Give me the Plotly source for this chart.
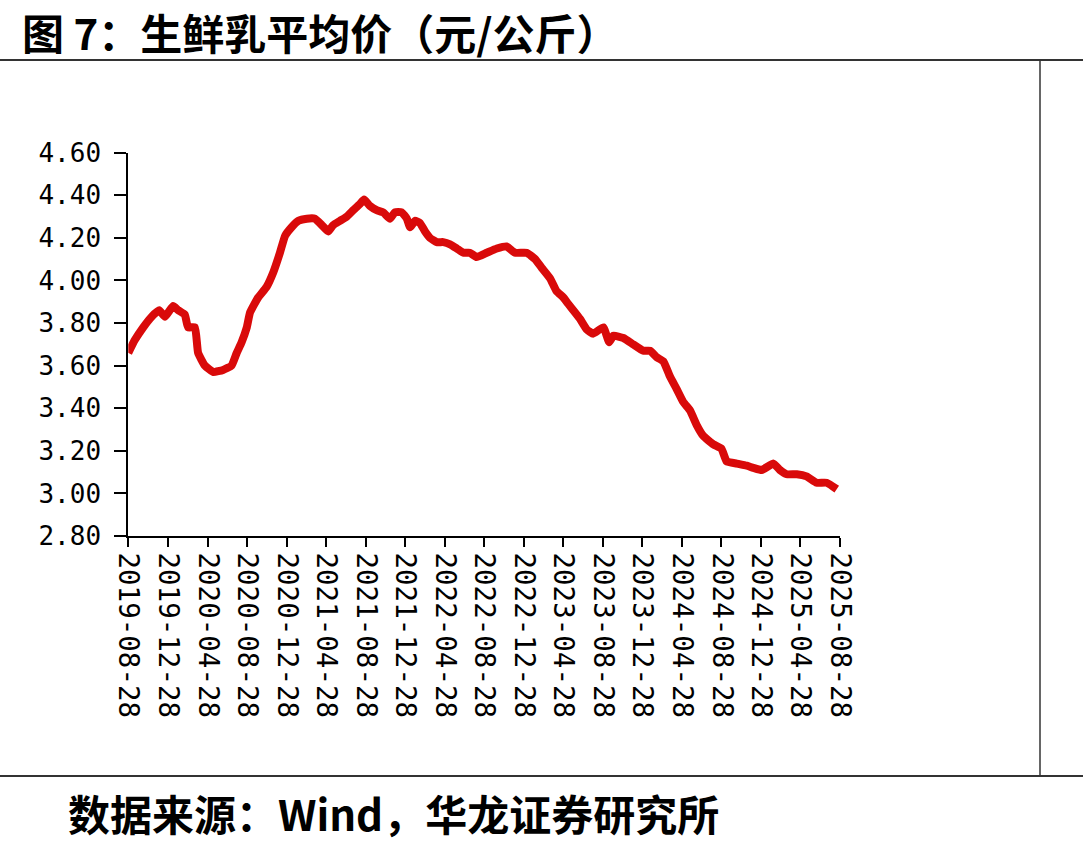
import plotly.graph_objects as go

# ---- data ----
dates = [
    "2019-08-28", "2019-09-17", "2019-10-13", "2019-11-08", "2019-12-01", "2019-12-19",
    "2020-01-13", "2020-01-29", "2020-02-18", "2020-02-28", "2020-03-20", "2020-03-30",
    "2020-04-20", "2020-05-16", "2020-06-15", "2020-07-11", "2020-07-27", "2020-08-11",
    "2020-08-27", "2020-09-06", "2020-10-01", "2020-10-27", "2020-11-17", "2020-12-07",
    "2020-12-23", "2021-01-12", "2021-02-02", "2021-02-28", "2021-03-25", "2021-04-15",
    "2021-05-05", "2021-05-20", "2021-06-10", "2021-07-01", "2021-07-21", "2021-08-11",
    "2021-08-23", "2021-09-10", "2021-10-01", "2021-10-21", "2021-11-11", "2021-11-26",
    "2021-12-17", "2022-01-02", "2022-01-12", "2022-01-27", "2022-02-11", "2022-02-27",
    "2022-03-14", "2022-04-04", "2022-04-24", "2022-05-15", "2022-06-05", "2022-06-25",
    "2022-07-15", "2022-08-05", "2022-09-05", "2022-10-06", "2022-11-05", "2022-12-01",
    "2023-01-06", "2023-02-01", "2023-02-21", "2023-03-19", "2023-04-08", "2023-04-29",
    "2023-05-14", "2023-06-04", "2023-06-19", "2023-07-10", "2023-07-30", "2023-08-30",
    "2023-09-17", "2023-09-30", "2023-10-31", "2023-11-30", "2023-12-31", "2024-01-21",
    "2024-02-10", "2024-03-02", "2024-03-22", "2024-04-12", "2024-05-02", "2024-05-23",
    "2024-06-13", "2024-07-03", "2024-08-03", "2024-08-28", "2024-09-13", "2024-10-14",
    "2024-11-14", "2024-12-04", "2024-12-30", "2025-02-04", "2025-02-24", "2025-03-17",
    "2025-04-17", "2025-05-17", "2025-06-17", "2025-07-18", "2025-08-18",
]
prices = [
    3.66, 3.72, 3.78, 3.83, 3.86, 3.83,
    3.88, 3.86, 3.84, 3.78, 3.78, 3.66,
    3.60, 3.57, 3.58, 3.60, 3.66, 3.71,
    3.78, 3.85, 3.92, 3.97, 4.04, 4.13,
    4.21, 4.25, 4.28, 4.29, 4.29, 4.26,
    4.23, 4.26, 4.28, 4.30, 4.33, 4.36,
    4.38, 4.35, 4.33, 4.32, 4.29, 4.32,
    4.32, 4.29, 4.25, 4.28, 4.27, 4.23,
    4.20, 4.18, 4.18, 4.17, 4.15, 4.13,
    4.13, 4.11, 4.13, 4.15, 4.16, 4.13,
    4.13, 4.10, 4.06, 4.01, 3.95, 3.92,
    3.89, 3.85, 3.82, 3.77, 3.75, 3.78,
    3.71, 3.74, 3.73, 3.70, 3.67, 3.67,
    3.64, 3.62, 3.55, 3.49, 3.43, 3.39,
    3.32, 3.27, 3.23, 3.21, 3.15, 3.14,
    3.13, 3.12, 3.11, 3.14, 3.11, 3.09,
    3.09, 3.08, 3.05, 3.05, 3.02,
]
tick_dates = [
    "2019-08-28", "2019-12-28", "2020-04-28", "2020-08-28", "2020-12-28",
    "2021-04-28", "2021-08-28", "2021-12-28", "2022-04-28", "2022-08-28",
    "2022-12-28", "2023-04-28", "2023-08-28", "2023-12-28", "2024-04-28",
    "2024-08-28", "2024-12-28", "2025-04-28", "2025-08-28",
]
y_ticks = [2.80, 3.00, 3.20, 3.40, 3.60, 3.80, 4.00, 4.20, 4.40, 4.60]

title_text = "图 7：生鲜乳平均价（元/公斤）"
source_text = "数据来源：Wind，华龙证券研究所"

W, H = 1083, 848

fig = go.Figure()
fig.add_trace(go.Scatter(
    x=dates, y=prices, mode="lines",
    line=dict(color="#D90A0A", width=8, shape="spline", smoothing=0.4),
    hoverinfo="x+y", showlegend=False,
))

y_font = dict(family="DejaVu Sans Mono", size=26, color="#000000")
x_font = dict(family="DejaVu Sans Mono", size=27.5, color="#000000")

fig.update_layout(
    width=W, height=H,
    margin=dict(l=0, r=0, t=0, b=0, pad=0, autoexpand=False),
    paper_bgcolor="white", plot_bgcolor="white",
    xaxis=dict(
        type="date", automargin=False,
        domain=[128.3 / W, 840 / W],
        range=[tick_dates[0], tick_dates[-1]],
        tickmode="array", tickvals=tick_dates, ticktext=tick_dates,
        tickangle=90, tickfont=x_font,
        showline=True, linecolor="#000000", linewidth=2,
        ticks="outside", ticklen=9, tickwidth=2, tickcolor="#000000",
        showgrid=False, zeroline=False,
    ),
    yaxis=dict(
        automargin=False,
        domain=[(H - 536) / H, (H - 152.7) / H],
        range=[y_ticks[0], y_ticks[-1]],
        tickmode="array", tickvals=y_ticks,
        ticktext=[f"{v:.2f}" for v in y_ticks],
        tickfont=y_font,
        showline=True, linecolor="#000000", linewidth=2,
        ticks="outside", ticklen=12, tickwidth=2, tickcolor="#000000",
        ticklabelstandoff=8,
        showgrid=False, zeroline=False,
    ),
    shapes=[
        dict(type="line", xref="paper", yref="paper", x0=0, x1=1,
             y0=(H - 60) / H, y1=(H - 60) / H, line=dict(color="#333333", width=2)),
        dict(type="line", xref="paper", yref="paper", x0=0, x1=1,
             y0=(H - 776) / H, y1=(H - 776) / H, line=dict(color="#333333", width=2)),
        dict(type="line", xref="paper", yref="paper", x0=1040 / W, x1=1040 / W,
             y0=(H - 776) / H, y1=(H - 60) / H, line=dict(color="#333333", width=1.5)),
    ],
    annotations=[
        dict(text="<b>" + title_text + "</b>", xref="paper", yref="paper",
             x=20 / W, y=(H - 31) / H, xanchor="left", yanchor="middle",
             showarrow=False,
             font=dict(family="Noto Sans CJK SC", size=42, color="#000000")),
        dict(text="<b>" + source_text + "</b>", xref="paper", yref="paper",
             x=66 / W, y=(H - 812) / H, xanchor="left", yanchor="middle",
             showarrow=False,
             font=dict(family="Noto Sans CJK SC", size=42, color="#000000")),
    ],
)

fig.write_html("out.html")
